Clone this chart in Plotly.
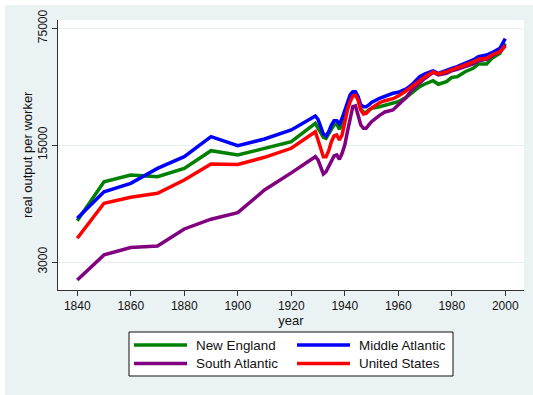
import plotly.graph_objects as go

# Real output per worker by region, 1840-2000 (log scale)
years = [1840, 1850, 1860, 1870, 1880, 1890, 1900, 1910, 1920,
         1929, 1930, 1931, 1932, 1933, 1934, 1935, 1936, 1937, 1938, 1939,
         1940, 1941, 1942, 1943, 1944, 1945, 1946, 1947, 1948, 1949,
         1950, 1953, 1955, 1958, 1960, 1963, 1965, 1968, 1970, 1973,
         1975, 1978, 1980, 1982, 1985, 1988, 1990, 1993, 1995, 1998, 2000]

new_england = [5300, 9070, 9950, 9720, 10900, 13900, 13100, 14370, 15740,
               20270, 18920, 17670, 16720, 16490, 17500, 18920, 19810, 20080, 18660, 20270,
               22720, 26090, 29240, 30640, 30350, 28220, 24590, 23590, 23590, 24350,
               24900, 25480, 25980, 26700, 27300, 29000, 30900, 33560, 34830, 36450,
               34690, 35950, 38190, 38510, 41260, 43240, 45880, 45880, 49630, 53170, 61000]

middle_atlantic = [5480, 7900, 8870, 10900, 12800, 16860, 14890, 16330, 18490,
                   22420, 21420, 19350, 17500, 17020, 18060, 19810, 21010, 21010, 20080, 21720,
                   24350, 26920, 29940, 31320, 31320, 29240, 26090, 25480, 25480, 26090,
                   27000, 28600, 29530, 30640, 31060, 32520, 34360, 38510, 39980, 41660,
                   40360, 42240, 43240, 44180, 46330, 48480, 50730, 51930, 53610, 56950, 65000]

south_atlantic = [2340, 3310, 3660, 3740, 4730, 5410, 5920, 8090, 10240,
                  12800, 12230, 11260, 10090, 10410, 11150, 12230, 12920, 13100, 12350, 13410,
                  15040, 18060, 22200, 25480, 25730, 22720, 19810, 18920, 18920, 19810,
                  20730, 22630, 23700, 24350, 26090, 29000, 31940, 35450, 37670, 40920,
                  39430, 40360, 41830, 42650, 44180, 45880, 48010, 48940, 51220, 54340, 59590]

united_states = [4160, 6740, 7320, 7730, 9290, 11570, 11490, 12690, 14370,
                 18060, 16110, 14370, 12800, 12800, 13900, 15740, 17020, 17260, 16110, 17260,
                 20730, 24350, 27300, 29530, 29810, 27950, 24350, 23040, 23260, 24120,
                 25000, 26920, 27680, 28440, 29530, 31760, 33560, 36810, 38510, 41090,
                 39980, 41260, 42240, 43240, 45260, 47150, 48940, 49630, 51930, 54340, 58770]

series_names = ["New England", "Middle Atlantic", "South Atlantic", "United States"]
series_colors = ["#008000", "#0000FF", "#800080", "#FF0000"]
series_values = [new_england, middle_atlantic, south_atlantic, united_states]

y_ticks = [3000, 15000, 75000]
x_ticks = [1840, 1860, 1880, 1900, 1920, 1940, 1960, 1980, 2000]

FONT = "Liberation Sans, Arial, sans-serif"
W, H = 533, 395
L, R, T, B = 58, 9, 20, 105
PW, PH = W - L - R, H - T - B


def px(x):
    """Horizontal pixel -> paper fraction."""
    return (x - L) / PW


def py(y):
    """Vertical pixel (from top) -> paper fraction."""
    return (H - B - y) / PH


fig = go.Figure()
for name, color, vals in zip(series_names, series_colors, series_values):
    fig.add_trace(go.Scatter(x=years, y=vals, mode="lines", name=name,
                             line=dict(color=color, width=3.5),
                             showlegend=False))

fig.update_xaxes(range=[1832.8, 2007.0], tickvals=x_ticks,
                 ticks="outside", ticklen=5, tickcolor="#333333",
                 showline=True, linecolor="#333333", linewidth=1,
                 showgrid=False, zeroline=False,
                 tickfont=dict(size=12, color="#111111", family=FONT),
                 title=dict(text="year", font=dict(size=13, color="#111111", family=FONT),
                            standoff=0))

fig.update_yaxes(type="log", range=[3.3099, 4.9247], tickvals=y_ticks,
                 ticktext=[str(v) for v in y_ticks], tickangle=-90,
                 ticks="outside", ticklen=5, tickcolor="#333333",
                 showline=True, linecolor="#333333", linewidth=1,
                 showgrid=True, gridcolor="#E6EEF0", gridwidth=1,
                 zeroline=False,
                 tickfont=dict(size=12, color="#111111", family=FONT))

shapes = [
    # thin white frame along the top and left edges
    dict(type="rect", xref="paper", yref="paper", x0=px(0), x1=px(W), y0=py(5), y1=py(0),
         fillcolor="white", line=dict(width=0), layer="above"),
    dict(type="rect", xref="paper", yref="paper", x0=px(0), x1=px(5), y0=py(H), y1=py(0),
         fillcolor="white", line=dict(width=0), layer="above"),
    # legend box
    dict(type="rect", xref="paper", yref="paper", x0=px(129), x1=px(453),
         y0=py(376), y1=py(332), fillcolor="white",
         line=dict(color="#111111", width=1), layer="above"),
]

# y-axis title, vertical text left of the tick labels
annotations = [dict(text="real output per worker", xref="paper", yref="paper",
                    x=px(27), y=py(155), xanchor="center", yanchor="middle",
                    textangle=-90, showarrow=False,
                    font=dict(size=13, color="#111111", family=FONT))]

legend_rows = [345, 363.5]
legend_cols = [(134, 187, 194), (297, 350, 356.5)]
for i, (name, color) in enumerate(zip(series_names, series_colors)):
    row, col = divmod(i, 2)
    x0, x1, xt = legend_cols[col]
    yy = legend_rows[row]
    shapes.append(dict(type="line", xref="paper", yref="paper",
                       x0=px(x0), x1=px(x1), y0=py(yy), y1=py(yy),
                       line=dict(color=color, width=3.5), layer="above"))
    annotations.append(dict(text=name, xref="paper", yref="paper",
                            x=px(xt), y=py(yy), xanchor="left", yanchor="middle",
                            showarrow=False,
                            font=dict(size=13.4, color="#111111", family=FONT)))

fig.update_layout(width=W, height=H,
                  margin=dict(l=L, r=R, t=T, b=B, pad=0),
                  paper_bgcolor="#EAF2F3", plot_bgcolor="white",
                  font=dict(family=FONT, color="#111111"),
                  shapes=shapes, annotations=annotations,
                  showlegend=False)

fig.write_html("out.html")
